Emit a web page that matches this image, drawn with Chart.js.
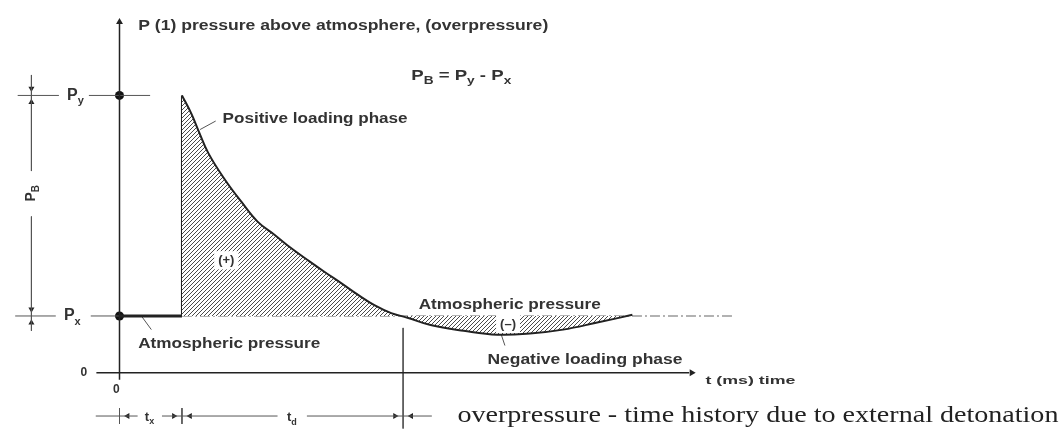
<!DOCTYPE html>
<html>
<head>
<meta charset="utf-8">
<script src="https://cdn.jsdelivr.net/npm/chart.js@4.4.1/dist/chart.umd.min.js"></script>
<style>
    html, body { margin: 0; padding: 0; background: #fff; }
</style>
</head>
<body>
<canvas id="myChart" width="1059" height="437"></canvas>
<script>
// x = time (ms), y = pressure (P_x = 1)
const t_x = 10
const t_end = 45.4          // t_x + t_d
const P_y = 4.88
const P_x = 1

// overpressure curve after arrival
const curve_t = [10, 11.5, 12.6, 14.2, 16.8, 19.5, 22.1, 24.8, 27.4, 30.3, 32.9, 35.6, 38.2, 40.8, 43.5, 46.1, 49.8, 55.1, 60.5, 65.7, 71.0, 76.3, 82.1]
const curve_p = [4.88, 4.56, 4.27, 3.87, 3.41, 3.01, 2.66, 2.43, 2.20, 1.97, 1.77, 1.57, 1.37, 1.19, 1.05, 0.97, 0.84, 0.74, 0.67, 0.69, 0.76, 0.88, 1.02]

// atmospheric pressure before arrival + reference line
const atm_t = [0, t_x]
const ref_t = [t_x, 98.3]

// axes extents
const time_axis = [-3.7, 91.2]
const pressure_axis = [-0.12, 6.17]

// dimension lines
const dim_t = -14.1
const dim_p = -0.76

// tick labels
const zero_label = '0'

const DARK = '#222'
const GREY = '#555'

function hatch() {
    const s = 4
    const c = document.createElement('canvas')
    c.width = s
    c.height = s
    const g = c.getContext('2d')
    g.fillStyle = '#fff'
    g.fillRect(0, 0, s, s)
    g.strokeStyle = '#4a4a4a'
    g.lineWidth = 1
    g.beginPath()
    g.moveTo(0, s); g.lineTo(s, 0)
    g.moveTo(-1, 1); g.lineTo(1, -1)
    g.moveTo(s - 1, s + 1); g.lineTo(s + 1, s - 1)
    g.stroke()
    return g.createPattern(c, 'repeat')
}

function line(ts, ps, opts) {
    return Object.assign({
        data: ts.map((t, i) => ({x: t, y: ps[i]})),
        showLine: true,
        pointRadius: 0,
        borderColor: GREY,
        borderWidth: 1,
        fill: false,
        clip: false,
    }, opts || {})
}

function arrow(t, p, rot, size) {
    return {
        data: [{x: t, y: p}],
        showLine: false,
        pointStyle: 'triangle',
        pointRadius: size || 3.5,
        rotation: rot,
        backgroundColor: DARK,
        borderColor: DARK,
        borderWidth: 0,
        clip: false,
    }
}

const datasets = [
    // hatched curve
    line(curve_t, curve_p, {
        borderColor: DARK, borderWidth: 2,
        tension: 0.4,
        fill: {value: P_x}, backgroundColor: hatch()
    }),
    // rise at arrival
    line([t_x, t_x], [P_x, P_y], {borderColor: DARK, borderWidth: 2}),
    line(atm_t, [P_x, P_x], {borderColor: DARK, borderWidth: 3}),
    line(ref_t, [P_x, P_x], {borderColor: '#666', borderWidth: 1.2, borderDash: [10, 3, 2, 3]}),
    // axes
    line([0, 0], pressure_axis, {borderColor: DARK, borderWidth: 1.5}),
    line(time_axis, [0, 0], {borderColor: DARK, borderWidth: 1.5}),
    arrow(0, pressure_axis[1], 0, 4),
    arrow(time_axis[1] + 0.4, 0, 90, 4),
    // level lines
    line([-16.3, -9.7], [P_y, P_y]),
    line([-4.9, 4.9], [P_y, P_y]),
    line([-16.7, -10.2], [P_x, P_x]),
    line([-4.6, 0], [P_x, P_x]),
    // P_B dimension
    line([dim_t, dim_t], [5.24, 3.55]),
    line([dim_t, dim_t], [2.75, 0.74]),
    arrow(dim_t, P_y + 0.12, 180, 3.5), arrow(dim_t, P_y - 0.12, 0, 3.5),
    arrow(dim_t, P_x + 0.12, 180, 3.5), arrow(dim_t, P_x - 0.12, 0, 3.5),
    // t_x, t_d dimension
    line([-3.8, 2.9], [dim_p, dim_p]),
    line([6.8, 25.3], [dim_p, dim_p]),
    line([30.0, 50.0], [dim_p, dim_p]),
    line([0, 0], [-0.62, -0.9]),
    line([t_x, t_x], [-0.62, -0.9]),
    line([t_end, t_end], [0.79, -0.98]),
    arrow(1.3, dim_p, 270, 3.5), arrow(8.7, dim_p, 90, 3.5), arrow(11.3, dim_p, 270, 3.5),
    arrow(t_end - 1.3, dim_p, 90, 3.5), arrow(t_end + 1.3, dim_p, 270, 3.5),
    // leaders
    line([15.4, 12.9], [4.43, 4.28]),
    line([3.5, 5.1], [1.0, 0.76]),
    line([61.0, 61.7], [0.71, 0.48]),
    // level dots
    {data: [{x: 0, y: P_y}, {x: 0, y: P_x}], showLine: false, pointRadius: 4.5,
        backgroundColor: '#111', borderWidth: 0, clip: false},
]

// text annotations, placed in data units
const SANS = '"Liberation Sans", Arial, sans-serif'
const SERIF = '"Liberation Serif", "Times New Roman", serif'
const notes = [
    {parts: [['P (1) pressure above atmosphere, (overpressure)']], t: 3.0, p: 6.10, size: 14, w: 410},
    {parts: [['P'], ['B', 1], [' = P'], ['y', 1], [' - P'], ['x', 1]], t: 46.7, p: 5.22, size: 15, w: 100},
    {parts: [['Positive loading phase']], t: 16.5, p: 4.47, size: 14, w: 185},
    {parts: [['(+)']], t: 17.1, p: 1.98, size: 13, align: 'center', box: true},
    {parts: [['Atmospheric pressure']], t: 3.0, p: 0.50, size: 14, w: 182},
    {parts: [['Atmospheric pressure']], t: 47.9, p: 1.19, size: 14, w: 182},
    {parts: [['(–)']], t: 62.2, p: 0.86, size: 13, align: 'center', box: true},
    {parts: [['Negative loading phase']], t: 58.9, p: 0.22, size: 14, w: 195},
    {parts: [['t (ms) time']], t: 93.8, p: -0.14, size: 11, w: 90},
    {parts: [['overpressure - time history due to external detonation']], t: 54.1, p: -0.76, size: 24, w: 601,
        family: SERIF, weight: 'normal', color: '#222'},
    {parts: [['P'], ['y', 1]], t: -8.4, p: P_y, size: 16},
    {parts: [['P'], ['x', 1]], t: -8.9, p: P_x, size: 16},
    {parts: [[zero_label]], t: -5.7, p: 0, size: 12, align: 'center'},
    {parts: [[zero_label]], t: -0.5, p: -0.29, size: 12, align: 'center'},
    {parts: [['t'], ['x', 1]], t: 4.8, p: -0.78, size: 13, align: 'center'},
    {parts: [['t'], ['d', 1]], t: 27.6, p: -0.79, size: 13, align: 'center'},
    {parts: [['P'], ['B', 1]], t: dim_t, p: 3.16, size: 14, align: 'center', rot: -Math.PI / 2},
]

function drawNote(ctx, n, x, y) {
    const fam = n.family || SANS
    const wt = n.weight || 'bold'
    const big = wt + ' ' + n.size + 'px ' + fam
    const small = wt + ' ' + Math.round(n.size * 0.7) + 'px ' + fam
    let total = 0
    const widths = n.parts.map(pt => {
        ctx.font = pt[1] ? small : big
        const w = ctx.measureText(pt[0]).width
        total += w
        return w
    })
    const sx = n.w ? n.w / total : 1
    ctx.save()
    ctx.translate(x, y)
    if (n.rot) ctx.rotate(n.rot)
    ctx.scale(sx, 1)
    let cx = n.align === 'center' ? -total / 2 : 0
    if (n.box) {
        ctx.fillStyle = '#fff'
        ctx.fillRect(cx - 4, -n.size * 0.7, total + 8, n.size * 1.4)
    }
    ctx.fillStyle = n.color || '#333'
    ctx.textBaseline = 'middle'
    ctx.textAlign = 'left'
    n.parts.forEach((pt, i) => {
        ctx.font = pt[1] ? small : big
        ctx.fillText(pt[0], cx, pt[1] ? n.size * 0.35 : 0)
        cx += widths[i]
    })
    ctx.restore()
}

const notesPlugin = {
    id: 'notes',
    afterDatasetsDraw(chart) {
        const ctx = chart.ctx
        const xs = chart.scales.x, ys = chart.scales.y
        notes.forEach(n => drawNote(ctx, n, xs.getPixelForValue(n.t), ys.getPixelForValue(n.p)))
    }
}

new Chart(document.getElementById('myChart'), {
    type: 'scatter',
    data: {datasets: datasets},
    options: {
        responsive: false,
        animation: false,
        layout: {padding: 0},
        scales: {
            x: {type: 'linear', min: -18.41, max: 149.68, display: false},
            y: {type: 'linear', min: -1.05, max: 6.48, display: false},
        },
        plugins: {
            legend: {display: false},
            tooltip: {enabled: false},
        },
    },
    plugins: [notesPlugin],
})
</script>
</body>
</html>
